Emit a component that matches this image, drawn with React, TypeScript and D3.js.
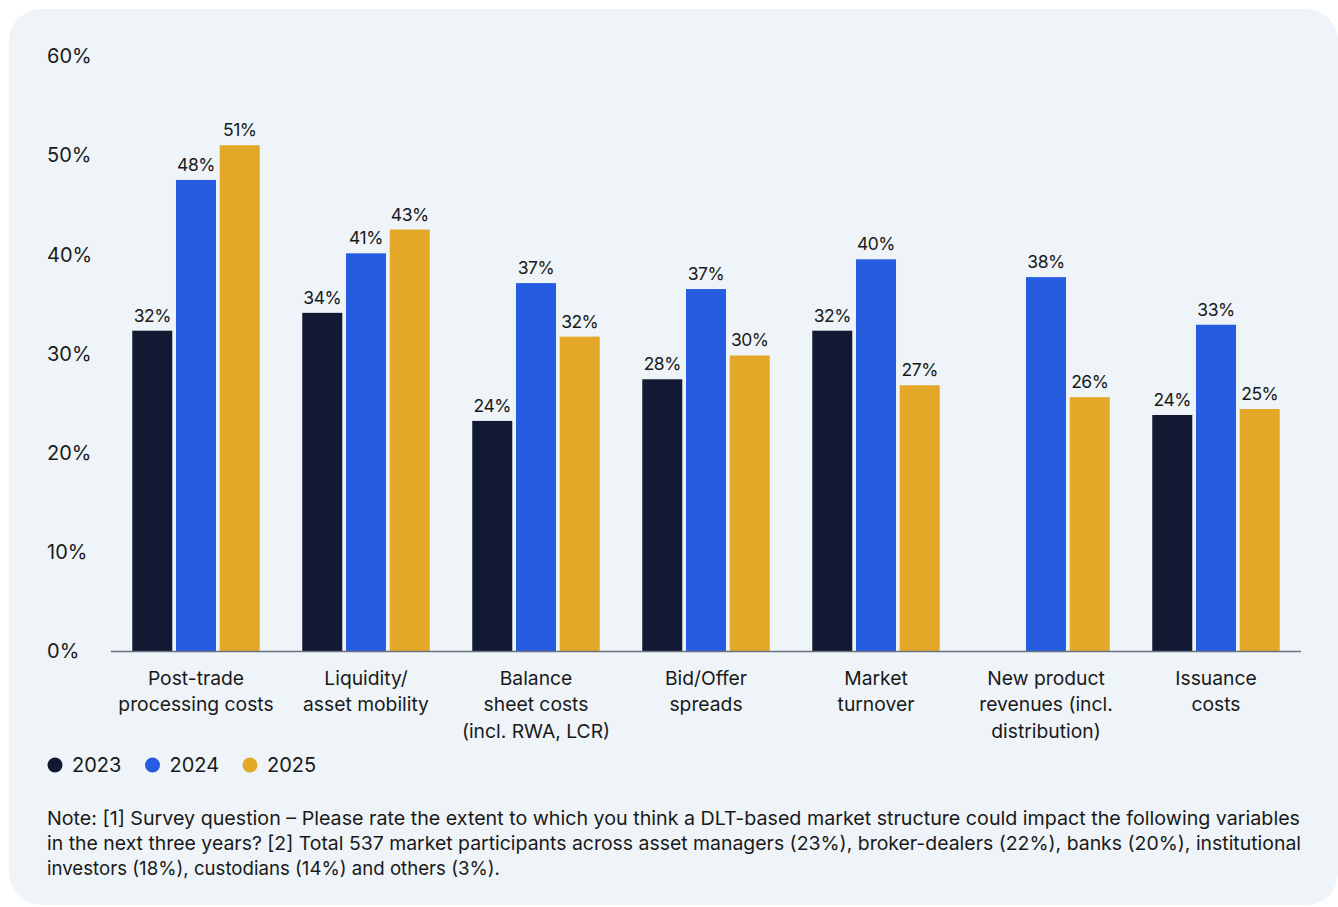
import React from "react";
import * as d3 from "d3";

const categories: string[][] = [
  ["Post-trade", "processing costs"],
  ["Liquidity/", "asset mobility"],
  ["Balance", "sheet costs", "(incl. RWA, LCR)"],
  ["Bid/Offer", "spreads"],
  ["Market", "turnover"],
  ["New product", "revenues (incl.", "distribution)"],
  ["Issuance", "costs"],
];
const seriesNames = ["2023", "2024", "2025"];
const values2023: (number | null)[] = [32.3, 34.1, 23.2, 27.4, 32.3, null, 23.8];
const values2024: (number | null)[] = [47.5, 40.1, 37.1, 36.5, 39.5, 37.7, 32.9];
const values2025: (number | null)[] = [51.0, 42.5, 31.7, 29.8, 26.8, 25.6, 24.4];
const labels2023 = ["32%", "34%", "24%", "28%", "32%", "", "24%"];
const labels2024 = ["48%", "41%", "37%", "37%", "40%", "38%", "33%"];
const labels2025 = ["51%", "43%", "32%", "30%", "27%", "26%", "25%"];
const yTicks = [0, 10, 20, 30, 40, 50, 60];
const noteLines = [
  "Note: [1] Survey question \u2013 Please rate the extent to which you think a DLT-based market structure could impact the following variables",
  "in the next three years? [2] Total 537 market participants across asset managers (23%), broker-dealers (22%), banks (20%), institutional",
  "investors (18%), custodians (14%) and others (3%).",
];
const noteWidths = [1253, 1254, 453];

const colors = ["#111933", "#255ce0", "#e3a827"];
const FONT = "Inter, 'Noto Sans', sans-serif";

export default function App() {
  const W = 1338;
  const H = 907;
  const seriesVals = [values2023, values2024, values2025];
  const seriesLabels = [labels2023, labels2024, labels2025];
  const catKeys = categories.map((c) => c.join(" "));

  const x0 = d3.scaleBand<string>().domain(catKeys).range([111, 1301]).paddingInner(0.25).paddingOuter(0.125);
  const x1 = d3.scaleBand<string>().domain(seriesNames).range([0, x0.bandwidth()]).paddingInner(0.085);
  const y = d3.scaleLinear().domain([0, 60]).range([651, 56]);

  return (
    <svg width={W} height={H} style={{ position: "absolute", left: 0, top: 0 }} fontFamily={FONT}>
      <rect x={9} y={9} width={1329} height={896} rx={32} fill="#eef4f7" />
      {yTicks.map((t) => (
        <text key={t} x={47} y={y(t)} dy="0.36em" fontSize={20} fill="#1a1a1a">
          {t}%
        </text>
      ))}
      {catKeys.map((ck, i) => (
        <g key={ck} transform={`translate(${x0(ck)},0)`}>
          {seriesNames.map((s, j) => {
            const v = seriesVals[j][i];
            if (v == null) return null;
            const bx = x1(s)!;
            return (
              <g key={s}>
                <rect x={bx} y={y(v)} width={x1.bandwidth()} height={y(0) - y(v)} fill={colors[j]} />
                <text x={bx + x1.bandwidth() / 2} y={y(v) - 9} textAnchor="middle" fontSize={17.5} fill="#1a1a1a" letterSpacing={-0.5}>
                  {seriesLabels[j][i]}
                </text>
              </g>
            );
          })}
          {categories[i].map((line, k) => (
            <text key={k} x={x0.bandwidth() / 2} y={678 + k * 26.5} dy="0.36em" textAnchor="middle" fontSize={19.3} fill="#1a1a1a">
              {line}
            </text>
          ))}
        </g>
      ))}
      <line x1={111} x2={1301} y1={y(0) + 0.5} y2={y(0) + 0.5} stroke="#6b7280" strokeWidth={1.5} />
      {seriesNames.map((s, j) => (
        <g key={s} transform={`translate(${55 + j * 97.5},765)`}>
          <circle r={7.5} fill={colors[j]} />
          <text x={17} dy="0.36em" fontSize={20} fill="#1a1a1a">
            {s}
          </text>
        </g>
      ))}
      {noteLines.map((l, i) => (
        <text key={i} x={47} y={818 + i * 25} dy="0.36em" fontSize={19} fill="#1a1a1a" textLength={noteWidths[i]} lengthAdjust="spacingAndGlyphs">
          {l}
        </text>
      ))}
    </svg>
  );
}
